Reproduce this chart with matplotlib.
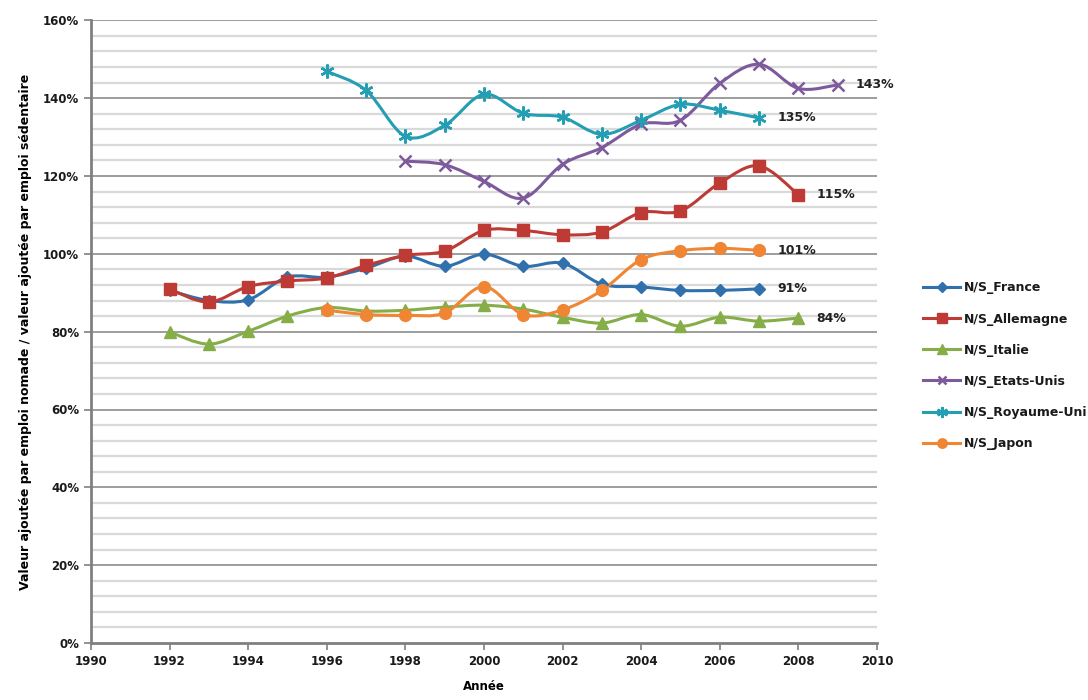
import matplotlib
matplotlib.use('Agg')
import matplotlib.pyplot as plt
import numpy as np
from matplotlib.path import Path
from matplotlib.patches import PathPatch
from matplotlib.lines import Line2D
from matplotlib import font_manager

# police etroite si disponible
names = set(f.name for f in font_manager.fontManager.ttflist)
narrow = [n for n in ['Liberation Sans Narrow', 'DejaVu Sans Condensed'] if n in names]
plt.rcParams['font.family'] = narrow + ['DejaVu Sans']

# ratio valeur ajoutee nomade / sedentaire, en %
years_fr = list(range(1992, 2008))
france = [90.6, 88.0, 88.2, 94.0, 94.0, 96.3, 99.4, 96.8, 99.9, 96.8, 97.6, 92.2, 91.5, 90.6, 90.6, 91.0]

years_de = list(range(1992, 2009))
allemagne = [90.9, 87.6, 91.6, 93.0, 93.8, 97.0, 99.6, 100.7, 106.0, 106.0, 104.9, 105.6, 110.6, 111.0, 118.2, 122.6, 115.2]

years_it = list(range(1992, 2009))
italie = [79.9, 76.8, 80.1, 84.0, 86.2, 85.3, 85.5, 86.3, 86.8, 85.8, 83.7, 82.2, 84.4, 81.4, 83.7, 82.7, 83.5]

years_us = list(range(1998, 2010))
etats_unis = [123.8, 122.9, 118.6, 114.3, 123.0, 127.3, 133.3, 134.3, 143.8, 148.7, 142.5, 143.4]

years_uk = list(range(1996, 2008))
royaume_uni = [146.9, 142.0, 130.2, 133.0, 141.0, 136.1, 135.1, 130.7, 134.3, 138.4, 136.9, 134.9]

years_jp = list(range(1996, 2008))
japon = [85.5, 84.4, 84.2, 84.8, 91.6, 84.4, 85.6, 90.6, 98.5, 100.8, 101.4, 100.9]

series = [
    ('N/S_France', years_fr, france, '#3070AC', 'D', 6, '91%'),
    ('N/S_Allemagne', years_de, allemagne, '#BE3A34', 's', 8.5, '115%'),
    ('N/S_Italie', years_it, italie, '#85AE48', '^', 8.5, '84%'),
    ('N/S_Etats-Unis', years_us, etats_unis, '#7D5A9C', 'x', 8, '143%'),
    ('N/S_Royaume-Uni', years_uk, royaume_uni, '#239EB2', (6, 2, 0), 10, '135%'),
    ('N/S_Japon', years_jp, japon, '#F08533', 'o', 8.5, '101%'),
]


def smooth_path(x, y):
    # courbe lissee type Excel (Catmull-Rom -> Bezier cubique)
    x = np.asarray(x, float)
    y = np.asarray(y, float)
    n = len(x)
    verts = [(x[0], y[0])]
    codes = [Path.MOVETO]
    for i in range(n - 1):
        x0, y0 = (x[i - 1], y[i - 1]) if i > 0 else (x[i], y[i])
        x3, y3 = (x[i + 2], y[i + 2]) if i + 2 < n else (x[i + 1], y[i + 1])
        c1 = (x[i] + (x[i + 1] - x0) / 6, y[i] + (y[i + 1] - y0) / 6)
        c2 = (x[i + 1] - (x3 - x[i]) / 6, y[i + 1] - (y3 - y[i]) / 6)
        verts += [c1, c2, (x[i + 1], y[i + 1])]
        codes += [Path.CURVE4] * 3
    return Path(verts, codes)


fig = plt.figure(figsize=(10.88, 7), dpi=100)
ax = fig.add_axes([0.0836, 0.0814, 0.7224, 0.8896])

ax.set_xlim(1990, 2010)
ax.set_ylim(0, 160)

# grille fine tous les 4 %, plus marquee tous les 20 %
for v in np.arange(4, 161, 4):
    if v % 20 == 0:
        ax.axhline(v, color='#8C8C8C', lw=1.2, zorder=0)
    else:
        ax.axhline(v, color='#D9D9D9', lw=1.6, zorder=0)

handles = []
for name, xs, ys, col, mk, ms, lab in series:
    patch = PathPatch(smooth_path(xs, ys), facecolor='none', edgecolor=col, lw=2.2, zorder=3,
                      capstyle='round', joinstyle='round')
    ax.add_patch(patch)
    mew = 1.8 if mk in ('x', (6, 2, 0)) else 1
    ax.plot(xs, ys, ls='none', marker=mk, ms=ms, color=col, mec=col, mew=mew, zorder=4)
    ax.annotate(lab, (xs[-1], ys[-1]), xytext=(13, 0), textcoords='offset points',
                va='center', ha='left', fontsize=9, fontweight='bold', color='#222222')
    handles.append(Line2D([], [], color=col, lw=2.2, marker=mk, ms=ms * 0.8, mew=mew, label=name))

ax.set_xticks(range(1990, 2011, 2))
ax.set_yticks(range(0, 161, 20))
ax.set_yticklabels(['%d%%' % v for v in range(0, 161, 20)])
ax.tick_params(axis='both', labelsize=8.5, colors='#7F7F7F', length=5, width=1.2, labelcolor='#1A1A1A')
for lbl in ax.get_xticklabels() + ax.get_yticklabels():
    lbl.set_fontweight('bold')

for s in ['top', 'right']:
    ax.spines[s].set_visible(False)
for s in ['left', 'bottom']:
    ax.spines[s].set_color('#808080')
    ax.spines[s].set_linewidth(2)

ax.set_xlabel('Année', fontsize=8.5, fontweight='bold', labelpad=9)
ax.set_ylabel('Valeur ajoutée par emploi nomade / valeur ajoutée par emploi sédentaire',
              fontsize=9, fontweight='bold', labelpad=8)

leg = fig.legend(handles=handles, loc='upper left', bbox_to_anchor=(0.838, 0.614), frameon=False,
                 fontsize=9, handlelength=3, labelspacing=1.45, handletextpad=0.3)
for t in leg.get_texts():
    t.set_color('#1A1A1A')
    t.set_fontweight('bold')

fig.savefig('out.png', dpi=100)
